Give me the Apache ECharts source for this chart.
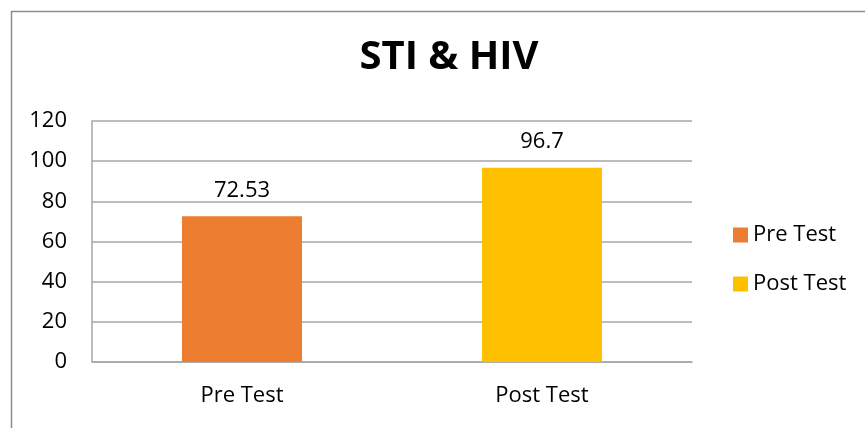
<!DOCTYPE html>
<html>
<head>
<meta charset="utf-8">
<script src="https://cdn.jsdelivr.net/npm/echarts@6/dist/echarts.min.js"></script>
<style>html,body{margin:0;padding:0;background:#fff}#c{width:865px;height:428px}</style>
</head>
<body>
<div id="c"></div>
<script>
const categories = ['Pre Test', 'Post Test'];
const values = [72.53, 96.7];
const seriesNames = ['Pre Test', 'Post Test'];
const colors = ['#ED7D31', '#FFC000'];
const yTicks = [0, 20, 40, 60, 80, 100, 120];

const chart = echarts.init(document.getElementById('c'));
const font = '"Open Sans", sans-serif';
const series = seriesNames.map((name, i) => ({
  name: name,
  type: 'bar',
  stack: 'all',
  barWidth: 120,
  itemStyle: { color: colors[i] },
  data: categories.map((c, j) => (j === i ? values[j] : '-')),
  label: {
    show: true, position: 'top', distance: 15,
    color: '#000', fontSize: 22, fontFamily: font,
    formatter: p => String(p.value)
  }
}));

chart.setOption({
  animation: false,
  backgroundColor: '#fff',
  graphic: [{
    type: 'rect', left: 9, top: 9, z: -1,
    shape: { width: 900, height: 500 },
    style: { fill: 'none', stroke: '#8c8c8c', lineWidth: 1.5 }
  }],
  title: {
    text: 'STI & HIV', left: 444, top: 33, textAlign: 'center',
    textStyle: { fontFamily: font, fontWeight: 'bold', fontSize: 40, color: '#000' }
  },
  legend: {
    orient: 'vertical', left: 733, top: 224, padding: 0,
    itemWidth: 15, itemHeight: 15, itemGap: 27, icon: 'rect',
    textStyle: { fontFamily: font, fontSize: 22, color: '#000', lineHeight: 22 },
    data: seriesNames
  },
  grid: { left: 92, right: 173, top: 121, bottom: 66 },
  xAxis: {
    type: 'category', data: categories,
    axisLine: { show: true, lineStyle: { color: '#a6a6a6', width: 1.5 } },
    axisTick: { show: false },
    axisLabel: { color: '#000', fontSize: 22, fontFamily: font, margin: 23 }
  },
  yAxis: {
    type: 'value', min: yTicks[0], max: yTicks[yTicks.length - 1], interval: 20,
    axisLine: { show: true, lineStyle: { color: '#a6a6a6', width: 1.5 } },
    axisTick: { show: false },
    splitLine: { lineStyle: { color: '#a6a6a6', width: 1.5 } },
    axisLabel: { color: '#000', fontSize: 22, fontFamily: font, margin: 25 }
  },
  series: series
});
</script>
</body>
</html>
